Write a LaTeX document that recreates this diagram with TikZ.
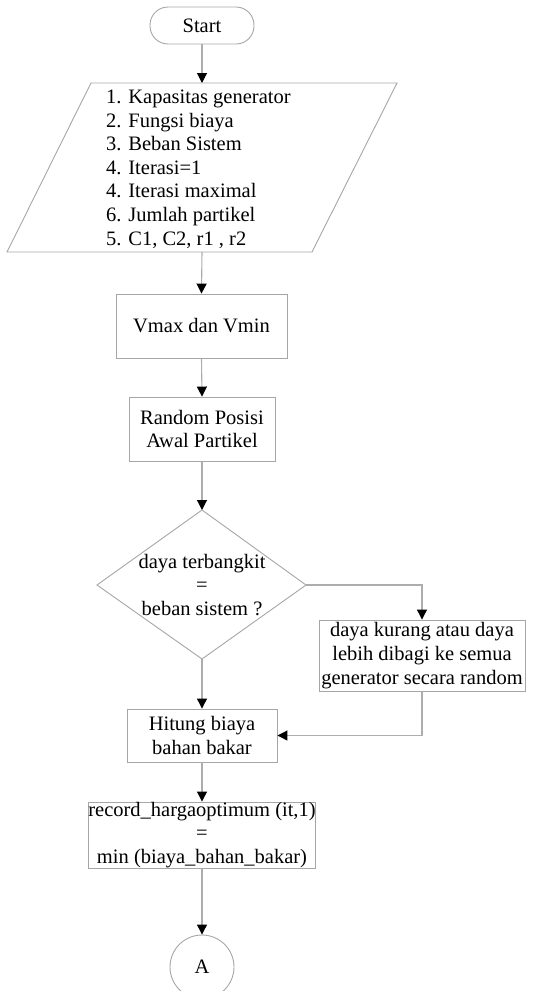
\documentclass[tikz,border=0pt]{standalone}
\usepackage{fontspec}
\setmainfont{Liberation Serif}
\usetikzlibrary{arrows.meta}
\begin{document}
\begin{tikzpicture}[x=1pt,y=-1pt,
  shp/.style={draw=black!35, line width=0.9pt},
  txt/.style={font=\fontsize{20.5}{23.6}\selectfont, align=center, inner sep=0pt},
  boxnode/.style={shp, txt, rectangle},
  conn/.style={draw=black!32, line width=1.1pt, -{Triangle[length=10pt,width=10pt,black]}},
  plain/.style={draw=black!32, line width=1.1pt}]
\useasboundingbox (0,0) rectangle (556,991);
% Start
\node[shp, txt, rectangle, rounded corners=18pt, minimum width=104pt, minimum height=37pt] (start) at (202,25.5) {Start};
% Input parallelogram
\coordinate (pTL) at (91,83);
\coordinate (pTR) at (397,83);
\coordinate (pBR) at (312,252);
\coordinate (pBL) at (7,252);
\draw[shp] (pTL) -- (pTR) -- (pBR) -- (pBL) -- cycle;
\coordinate (ptop) at (202,83);
\coordinate (pbot) at (202,252);
\node[txt, align=left, anchor=west] (inp) at (106,169) {1. Kapasitas generator\\2. Fungsi biaya\\3. Beban Sistem\\4. Iterasi=1\\4. Iterasi maximal\\6. Jumlah partikel\\5. C1, C2, r1 , r2};
% Boxes
\node[boxnode, minimum width=171pt, minimum height=64pt] (vmax) at (201.5,326) {Vmax dan Vmin};
\node[boxnode, minimum width=146pt, minimum height=64pt] (rand) at (202,429) {Random Posisi\\Awal Partikel};
% Diamond
\coordinate (dT) at (202,510);
\coordinate (dR) at (306,585);
\coordinate (dB) at (202,659);
\coordinate (dL) at (97,585);
\draw[shp] (dT) -- (dR) -- (dB) -- (dL) -- cycle;
\node[txt] (dtext) at (202,585) {daya terbangkit\\=\\beban sistem ?};
\node[boxnode, minimum width=206pt, minimum height=71pt] (rbox) at (422,655.5) {daya kurang atau daya\\lebih dibagi ke semua\\generator secara random};
\node[boxnode, minimum width=150pt, minimum height=53pt] (hit) at (202,735.5) {Hitung biaya\\bahan bakar};
\node[boxnode, minimum width=226pt, minimum height=66pt] (rec) at (202,835) {record\_hargaoptimum (it,1)\\=\\min (biaya\_bahan\_bakar)};
\node[shp, txt, circle, minimum size=64pt] (circ) at (202,967) {A};
% Connectors
\draw[conn] (start.south) -- (ptop);
\draw[conn] (pbot) -- (vmax.north);
\draw[conn] (vmax.south) -- (rand.north);
\draw[conn] (rand.south) -- (dT);
\draw[conn] (dB) -- (hit.north);
\draw[conn] (dR) -| (rbox.north);
\draw[conn] (rbox.south) |- (hit.east);
\draw[conn] (hit.south) -- (rec.north);
\draw[conn] (rec.south) -- (circ.north);
\end{tikzpicture}
\end{document}
